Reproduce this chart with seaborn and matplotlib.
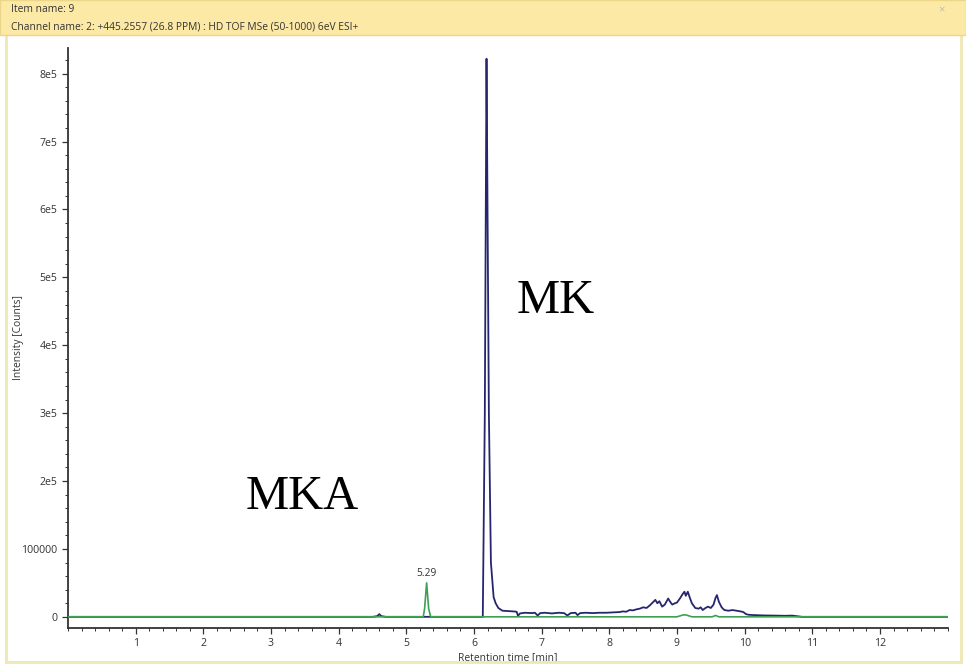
import numpy as np
import pandas as pd
import matplotlib
matplotlib.use("Agg")
import matplotlib.pyplot as plt
from matplotlib.patches import Rectangle
from matplotlib.ticker import MultipleLocator, FixedLocator, FixedFormatter
import seaborn as sns

# === data ===
# blue trace (MK channel)
mk_time = [0.0, 4.50, 4.57, 4.60, 4.63, 4.70, 6.13, 6.16, 6.185, 6.20, 6.22, 6.25,
           6.29, 6.32, 6.36, 6.42, 6.50, 6.58, 6.63, 6.65, 6.68, 6.75, 6.85, 6.90,
           6.94, 6.98, 7.05, 7.15, 7.25, 7.33, 7.38, 7.43, 7.50, 7.53, 7.57, 7.65,
           7.75, 7.85, 7.95, 8.05, 8.15, 8.20, 8.25, 8.30, 8.35, 8.40, 8.45, 8.50,
           8.55, 8.60, 8.65, 8.68, 8.71, 8.74, 8.78, 8.82, 8.87, 8.90, 8.93, 8.97,
           9.00, 9.05, 9.08, 9.11, 9.13, 9.16, 9.19, 9.22, 9.27, 9.32, 9.35, 9.38,
           9.42, 9.46, 9.50, 9.54, 9.57, 9.59, 9.62, 9.66, 9.70, 9.76, 9.82, 9.88,
           9.94, 9.98, 10.02, 10.06, 10.15, 10.30, 10.45, 10.60, 10.70, 10.75, 10.85, 13.0]
mk_intensity = [0, 0, 1000, 4000, 1000, 0, 0, 300000, 822000, 600000, 300000, 80000,
                29000, 20000, 13000, 9000, 8500, 8000, 7500, 1500, 5000, 6000, 5500, 6000,
                2000, 5500, 6000, 5000, 6000, 5500, 2000, 5500, 6000, 2500, 5500, 6000,
                5500, 6000, 6000, 6500, 7000, 8000, 7500, 10000, 9500, 11000, 12000, 14000,
                13000, 17000, 22000, 25000, 20000, 23000, 15000, 18000, 27000, 22000, 18000, 20000,
                21000, 28000, 33000, 37000, 31000, 37000, 28000, 20000, 13000, 12000, 14000, 10000,
                13000, 15000, 13000, 18000, 28000, 32000, 22000, 14000, 10000, 9000, 10000, 9000,
                8000, 7000, 4000, 3000, 2500, 2000, 1800, 1500, 1800, 1200, 0, 0]

# green trace (MKA channel)
mka_time = [0.0, 5.25, 5.27, 5.30, 5.33, 5.36, 9.00, 9.08, 9.12, 9.16, 9.22, 9.52, 9.57, 9.62, 13.0]
mka_intensity = [0, 0, 12000, 50000, 12000, 0, 0, 2500, 3000, 2000, 0, 0, 2000, 0, 0]

peak_label = "5.29"
peak_pos = (5.30, 50000)

x_ticks = [1, 2, 3, 4, 5, 6, 7, 8, 9, 10, 11, 12]
y_ticks = [0, 100000, 200000, 300000, 400000, 500000, 600000, 700000, 800000]
y_tick_labels = ["0", "100000", "2e5", "3e5", "4e5", "5e5", "6e5", "7e5", "8e5"]

df_mk = pd.DataFrame({"time": mk_time, "intensity": mk_intensity})
df_mka = pd.DataFrame({"time": mka_time, "intensity": mka_intensity})

# === figure ===
sns.set_style("ticks")
plt.rcParams["font.family"] = ["Open Sans", "DejaVu Sans"]

fig = plt.figure(figsize=(9.66, 6.65), dpi=100)
fig.patch.set_facecolor("white")

# window frame + header band
fig.patches.append(Rectangle((0.006, 0.004), 0.989, 0.99, transform=fig.transFigure,
                             fill=False, edgecolor="#efe7b4", linewidth=2.0, zorder=0))
fig.patches.append(Rectangle((0.0, 0.947), 1.0, 0.053, transform=fig.transFigure,
                             facecolor="#fde9a6", edgecolor="#ecd68a", linewidth=1.0, zorder=1))
fig.text(0.011, 0.985, "Item name: 9", fontsize=7.4, color="#333333", va="center")
fig.text(0.011, 0.959, "Channel name: 2: +445.2557 (26.8 PPM) : HD TOF MSe (50-1000) 6eV ESI+",
         fontsize=7.4, color="#333333", va="center")
fig.text(0.975, 0.985, "\u00d7", fontsize=8, color="#b8b8b8", va="center", ha="center")

ax = fig.add_axes([0.0704, 0.0556, 0.9106, 0.8724])

sns.lineplot(data=df_mk, x="time", y="intensity", ax=ax, sort=False, estimator=None,
             color="#262670", linewidth=1.3, zorder=2)
sns.lineplot(data=df_mka, x="time", y="intensity", ax=ax, sort=False, estimator=None,
             color="#3f9f55", linewidth=1.2, zorder=3)

ax.annotate(peak_label, xy=peak_pos, xytext=(0, 3), textcoords="offset points",
            ha="center", va="bottom", fontsize=7.4, color="#333333")

ax.text(7.2, 465000, "MK", fontfamily="Liberation Serif", fontsize=35, color="black",
        ha="center", va="center")
ax.text(3.46, 177000, "MKA", fontfamily="Liberation Serif", fontsize=35, color="black",
        ha="center", va="center")

ax.set_xlim(0, 13)
ax.set_ylim(-16500, 838000)
ax.xaxis.set_major_locator(FixedLocator(x_ticks))
ax.xaxis.set_minor_locator(MultipleLocator(0.2))
ax.yaxis.set_major_locator(FixedLocator(y_ticks))
ax.yaxis.set_major_formatter(FixedFormatter(y_tick_labels))
ax.yaxis.set_minor_locator(MultipleLocator(20000))

ax.set_xlabel("Retention time [min]", fontsize=7.4, color="#333333", labelpad=2)
ax.set_ylabel("Intensity [Counts]", fontsize=7.4, color="#333333")
ax.yaxis.set_label_coords(-0.050, 0.5)

ax.tick_params(axis="both", which="major", direction="out", length=4.5, width=0.9,
               colors="#333333", labelsize=7.6, pad=3)
ax.tick_params(axis="both", which="minor", direction="out", length=2.5, width=0.7,
               colors="#333333")
for side in ["left", "bottom"]:
    ax.spines[side].set_color("#333333")
    ax.spines[side].set_linewidth(1.3)
sns.despine(ax=ax)

fig.savefig("out.png", dpi=100, facecolor="white")
